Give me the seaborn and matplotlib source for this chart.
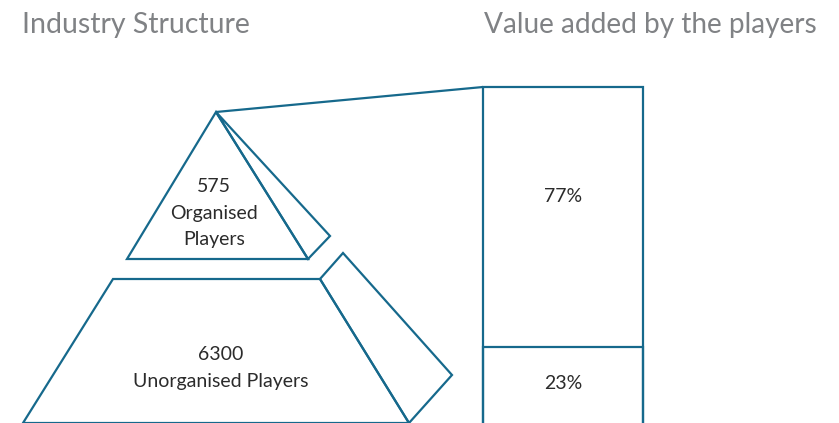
import matplotlib
matplotlib.use("Agg")
import matplotlib.pyplot as plt
from matplotlib.patches import Polygon
import seaborn as sns

# Data
pyramid_counts = ["575", "6300"]
pyramid_labels = [["Organised", "Players"], ["Unorganised Players"]]
value_segments = ["Organised", "Unorganised"]
value_shares = [77, 23]
titles = ["Industry Structure", "Value added by the players"]

EDGE = "#16698c"
TEXT = "#2b2b2b"
GREY = "#808285"

sns.set_theme(style="white")
plt.rcParams["font.family"] = ["Lato", "DejaVu Sans"]

W, H = 839, 423
fig = plt.figure(figsize=(W / 100, H / 100), dpi=100)
fig.patch.set_facecolor("white")

# Canvas axes in pixel units for the pyramid diagram
ax = fig.add_axes([0, 0, 1, 1])
ax.set_xlim(0, W)
ax.set_ylim(H, 0)
ax.axis("off")

lw = 1.6
# Top tier: triangle with its side face
apex = (216, 112)
tri = [apex, (127, 259), (308, 259)]
tri_side = [apex, (308, 259), (330, 236)]
# Bottom tier: trapezoid with its side face
trap = [(113, 279), (320, 279), (409, 423), (23, 423)]
trap_side = [(320, 279), (343, 253), (452, 375), (409, 423)]
for poly in (tri, tri_side, trap, trap_side):
    ax.add_patch(Polygon(poly, closed=True, fill=False, edgecolor=EDGE,
                         linewidth=lw, joinstyle="miter", clip_on=False))

# Connector from the apex to the value bar
bar_left, bar_right, bar_top = 483, 643, 87
ax.plot([apex[0], bar_left], [apex[1], bar_top], color=EDGE, lw=lw,
        solid_capstyle="butt")

# Tier labels
label_fs = 14
top_lines = [pyramid_counts[0]] + pyramid_labels[0]
for i, line in enumerate(top_lines):
    ax.text(214, 186 + 27 * i, line, ha="center", va="center",
            fontsize=label_fs, color=TEXT)
bottom_lines = [pyramid_counts[1]] + pyramid_labels[1]
for i, line in enumerate(bottom_lines):
    ax.text(221, 355 + 26 * i, line, ha="center", va="center",
            fontsize=label_fs, color=TEXT)

# Titles
ax.text(22, 25, titles[0], ha="left", va="center", fontsize=20.5, color=GREY)
ax.text(484, 25, titles[1], ha="left", va="center", fontsize=20.2, color=GREY)

# Stacked value bar (outline only)
bax = fig.add_axes([bar_left / W, -0.004, (bar_right - bar_left) / W,
                    (H - bar_top) / H + 0.004])
cum_top = [value_shares[1] + value_shares[0], value_shares[1]]
for top in cum_top:
    sns.barplot(x=["v"], y=[top], ax=bax, width=1.0, fill=False,
                color=EDGE, linewidth=lw, errorbar=None)
for p in bax.patches:
    p.set_edgecolor(EDGE)
    p.set_clip_on(False)
bax.set_xlim(-0.5, 0.5)
bax.set_ylim(0, sum(value_shares))
bax.axis("off")

bax.text(0, value_shares[1] + value_shares[0] / 2 + 6, f"{value_shares[0]}%",
         ha="center", va="center", fontsize=label_fs, color=TEXT)
bax.text(0, value_shares[1] / 2 + 0.8, f"{value_shares[1]}%",
         ha="center", va="center", fontsize=label_fs, color=TEXT)

fig.savefig("out.png", dpi=100, facecolor="white")
